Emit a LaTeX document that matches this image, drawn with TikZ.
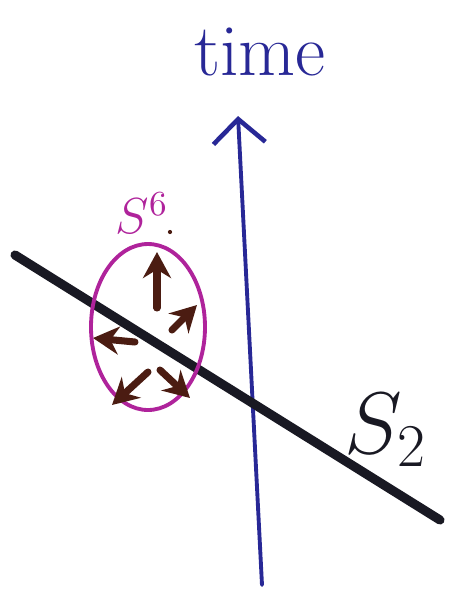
\documentclass[tikz,border=0pt]{standalone}
\usetikzlibrary{arrows.meta}
\definecolor{penblue}{RGB}{40,40,150}
\definecolor{penmag}{RGB}{175,35,155}
\definecolor{penbrown}{RGB}{75,28,18}
\definecolor{penblack}{RGB}{25,25,35}
\begin{document}
\begin{tikzpicture}[line join=round,line cap=round,>={Stealth[length=2.6mm,width=2.8mm]},font=\large]
	\useasboundingbox (0,0) rectangle (4.5,-6.08);
	% time axis
	\coordinate (tbot) at (2.62,-5.85);
	\coordinate (ttop) at (2.38,-1.16);
	\draw[penblue,line width=1.1pt,-{Straight Barb[length=2.4mm,width=5.2mm,line width=1.3pt]}] (tbot)--(ttop);
	\node[penblue] (timelbl) at (2.60,-0.52) {\fontsize{21}{24}\selectfont time};
	% the slice S2
	\coordinate (sa) at (0.15,-2.55);
	\coordinate (sb) at (4.40,-5.20);
	\draw[penblack,line width=2.6pt] (sa)--(sb);
	\node[penblack] (slbl) at (3.86,-4.30) {\fontsize{26}{28}\selectfont $S_2$};
	% the sphere S6
	\draw[penmag,line width=1.1pt] (1.48,-3.27) ellipse (0.57 and 0.83);
	\node[penmag] (sixlbl) at (1.42,-2.13) {\fontsize{14}{16}\selectfont $S^6$};
	\fill[penbrown] (1.70,-2.32) circle (0.6pt);
	\draw[penbrown,line width=2pt,->] (1.57,-3.08)--(1.57,-2.52);
	\draw[penbrown,line width=2pt,->] (1.72,-3.30)--(1.97,-3.05);
	\draw[penbrown,line width=2pt,->] (1.35,-3.42)--(0.93,-3.38);
	\draw[penbrown,line width=2pt,->] (1.48,-3.72)--(1.12,-4.05);
	\draw[penbrown,line width=2pt,->] (1.60,-3.70)--(1.90,-3.98);
\end{tikzpicture}
\end{document}
